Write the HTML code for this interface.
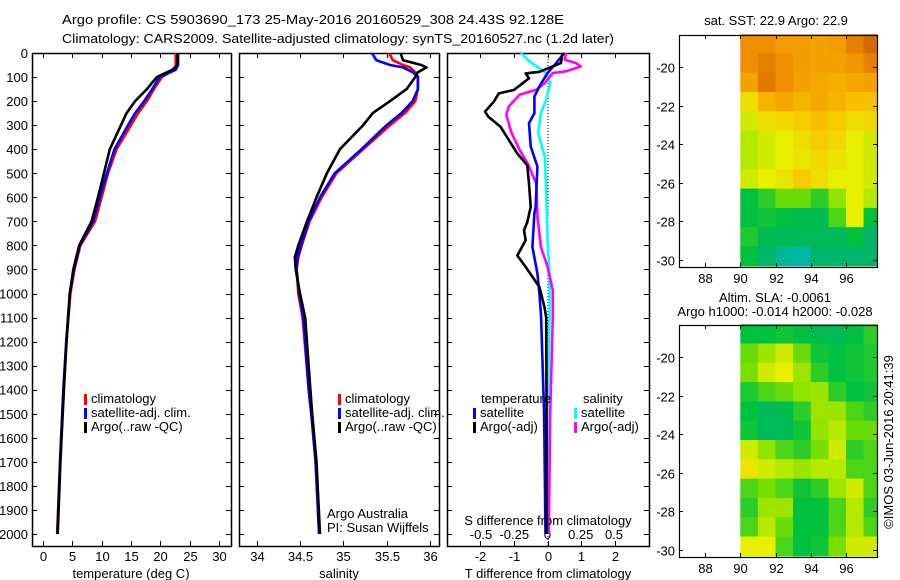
<!DOCTYPE html>
<html><head><meta charset="utf-8"><style>
html,body{margin:0;padding:0;background:#fff;}
svg{display:block;font-family:"Liberation Sans",sans-serif;}
text{fill:#000;font-size:13px;}
</style></head><body>
<svg id="fig" width="900" height="580" viewBox="0 0 900 580" xmlns="http://www.w3.org/2000/svg">
<text x="62" y="24" font-size="14.5" textLength="502" lengthAdjust="spacingAndGlyphs">Argo profile: CS 5903690_173 25-May-2016 20160529_308 24.43S 92.128E</text>
<text x="62" y="43" font-size="14.5" textLength="552" lengthAdjust="spacingAndGlyphs">Climatology: CARS2009. Satellite-adjusted climatology: synTS_20160527.nc (1.2d later)</text>
<g id="plots"></g>
</svg>
<script>
// ---- Data ----
const depths   = [0, 50, 70, 100, 150, 200, 250, 300, 400, 500, 600, 700, 800, 900, 1000, 1200, 1400, 1700, 2000];
const tempClim = [22.6, 22.6, 22.3, 20.25, 18.9, 17.7, 16.2, 15.0, 12.56, 11.1, 10.0, 8.9, 6.4, 5.4, 4.7, 4.05, 3.55, 2.95, 2.45];
const tempSat  = [23.0, 23.0, 22.6, 19.9, 18.6, 17.25, 15.7, 14.5, 12.2, 10.9, 9.7, 8.6, 6.3, 5.3, 4.6, 4.0, 3.5, 2.94, 2.5];
const tempArgo = [22.9, 22.9, 22.0, 19.4, 17.7, 15.7, 14.26, 13.3, 11.4, 10.4, 9.4, 8.3, 6.2, 5.2, 4.6, 4.05, 3.6, 3.0, 2.55];

const salDepths = [0, 30, 50, 60, 80, 100, 150, 200, 250, 300, 400, 500, 600, 700, 800, 850, 900, 1000, 1100, 1400, 1500, 1700, 2000];
const salClim = [35.53, 35.57, 35.69, 35.77, 35.83, 35.86, 35.86, 35.83, 35.71, 35.54, 35.23, 34.92, 34.75, 34.61, 34.52, 34.48, 34.46, 34.48, 34.53, 34.60, 34.63, 34.68, 34.72];
const salSat  = [35.33, 35.38, 35.54, 35.69, 35.80, 35.86, 35.86, 35.80, 35.67, 35.50, 35.21, 34.90, 34.73, 34.60, 34.51, 34.47, 34.46, 34.49, 34.54, 34.60, 34.63, 34.68, 34.72];
const salArgo = [35.66, 35.69, 35.90, 35.96, 35.86, 35.83, 35.73, 35.54, 35.34, 35.23, 34.96, 34.81, 34.69, 34.58, 34.48, 34.44, 34.45, 34.50, 34.56, 34.62, 34.64, 34.69, 34.73];

const tdDepths  = [0, 42, 78, 85, 105, 154, 168, 203, 244, 265, 307, 362, 418, 467, 543, 640, 703, 737, 779, 842, 890, 973, 1057, 1100, 1400, 2000];
const tDiffArgo = [0.45, 0.4, -0.24, -0.65, -0.55, -1.0, -1.45, -1.6, -1.86, -1.76, -1.4, -1.15, -0.9, -0.6, -0.55, -0.5, -0.6, -0.7, -0.65, -0.9, -0.65, -0.24, -0.09, -0.04, -0.03, -0.02];
const tsDepths  = [0, 42, 83, 139, 181, 250, 292, 389, 472, 639, 667, 806, 917, 1000, 1097, 1500, 2000];
const tDiffSat  = [0.5, 0.26, 0.0, -0.24, -0.39, -0.39, -0.55, -0.5, -0.3, -0.35, -0.39, -0.45, -0.3, -0.24, -0.19, -0.1, -0.06];
const ssDepths  = [0, 35, 63, 83, 125, 194, 250, 333, 431, 570, 779, 917, 1097, 1500, 2000];
const sDiffSat  = [-0.2, -0.135, -0.06, -0.01, 0.02, -0.01, -0.05, -0.07, -0.02, -0.01, 0.0, 0.015, 0.015, 0.0, 0.0];
const saDepths  = [0, 28, 42, 56, 76, 83, 125, 153, 174, 222, 257, 333, 403, 458, 542, 681, 806, 889, 986, 1097, 1500, 2000];
const sDiffArgo = [0.14, 0.13, 0.215, 0.25, 0.14, 0.04, -0.02, -0.085, -0.21, -0.29, -0.31, -0.27, -0.21, -0.15, -0.085, -0.075, -0.05, 0.0, 0.04, 0.04, 0.02, 0.01];

const depthTicks = [0,100,200,300,400,500,600,700,800,900,1000,1100,1200,1300,1400,1500,1600,1700,1800,1900,2000];
const tempTicks = [0,5,10,15,20,25,30];
const salTicks = [34,34.5,35,35.5,36];
const salTickLabels = ["34","34.5","35","35.5","36"];
const tdTicks = [-2,-1,0,1,2];
const sdTicks = [-0.5,-0.25,0,0.25,0.5];
const sdTickLabels = ["-0.5","-0.25","0","0.25","0.5"];

const lonTicks = [88,90,92,94,96];
const latTicks = [-20,-22,-24,-26,-28,-30];
const mapLons = [90,91,92,93,94,95,96,97];
const mapLats = [-18.3,-19.3,-20.3,-21.3,-22.3,-23.3,-24.3,-25.3,-26.3,-27.3,-28.3,-29.3];
const sstGrid = [
 [0.88,0.88,0.86,0.86,0.85,0.86,0.90,0.93],
 [0.88,0.90,0.88,0.86,0.85,0.85,0.87,0.90],
 [0.85,0.91,0.88,0.85,0.84,0.83,0.84,0.85],
 [0.75,0.82,0.84,0.82,0.84,0.82,0.80,0.80],
 [0.70,0.75,0.76,0.78,0.80,0.78,0.75,0.76],
 [0.68,0.70,0.72,0.75,0.78,0.76,0.72,0.70],
 [0.68,0.70,0.72,0.74,0.76,0.74,0.72,0.70],
 [0.70,0.72,0.74,0.78,0.75,0.72,0.72,0.70],
 [0.55,0.58,0.62,0.62,0.58,0.65,0.72,0.68],
 [0.55,0.56,0.55,0.53,0.53,0.60,0.72,0.55],
 [0.57,0.53,0.52,0.52,0.52,0.52,0.55,0.50],
 [0.55,0.50,0.46,0.45,0.50,0.50,0.50,0.50]];
const slaGrid = [
 [0.55,0.55,0.56,0.55,0.53,0.52,0.55,0.58],
 [0.62,0.66,0.70,0.62,0.56,0.55,0.56,0.57],
 [0.63,0.70,0.72,0.66,0.58,0.55,0.56,0.57],
 [0.57,0.60,0.62,0.65,0.66,0.58,0.55,0.56],
 [0.55,0.52,0.53,0.58,0.66,0.66,0.60,0.58],
 [0.56,0.52,0.52,0.56,0.65,0.68,0.62,0.62],
 [0.70,0.65,0.60,0.58,0.63,0.70,0.58,0.60],
 [0.74,0.70,0.68,0.66,0.68,0.68,0.60,0.60],
 [0.60,0.63,0.60,0.56,0.58,0.66,0.70,0.60],
 [0.58,0.66,0.66,0.55,0.55,0.60,0.68,0.58],
 [0.60,0.68,0.62,0.55,0.55,0.60,0.68,0.60],
 [0.72,0.72,0.60,0.55,0.56,0.63,0.70,0.70]];

// ---- Drawing ----
const NS = "http://www.w3.org/2000/svg";
const root = document.getElementById('plots');
function mk(tag, attrs, parent){
  const e = document.createElementNS(NS, tag);
  for (const k in attrs) e.setAttribute(k, attrs[k]);
  (parent||root).appendChild(e);
  return e;
}
function txt(s, x, y, anchor, size){
  const e = mk('text', {x:x, y:y, 'text-anchor':anchor||'start', 'font-size':size||13});
  e.textContent = s;
  return e;
}
const yTop = 53, yBot = 546;
const yOf = d => yTop + d*0.2405;
function lin(d0,d1,r0,r1){ return v => r0 + (v-d0)*(r1-r0)/(d1-d0); }
const xT = lin(0,30,42.7,219.3);
const xS = lin(34,36,256.7,430);
const xTD = lin(0,1,547.5,581.1);
const xSD = lin(0,1,547.5,680.5);

function frame(x0,x1,name){
  const r = mk('rect',{x:x0+0.5,y:yTop+0.5,width:x1-x0,height:yBot-yTop,fill:'none',stroke:'#000','stroke-width':1.5});
  
  
  depthTicks.forEach(d=>{
    const y = Math.round(yOf(d))+0.5;
    mk('line',{x1:x0,x2:x0+5,y1:y,y2:y,stroke:'#000'});
    mk('line',{x1:x1-5,x2:x1,y1:y,y2:y,stroke:'#000'});
  });
}
function xticks(ticks, labels, fx, ylab){
  ticks.forEach((t,i)=>{
    const x = Math.round(fx(t))+0.5;
    mk('line',{x1:x,x2:x,y1:yTop,y2:yTop+5,stroke:'#000'});
    mk('line',{x1:x,x2:x,y1:yBot-5,y2:yBot,stroke:'#000'});
    const l = txt(labels[i], x, ylab, 'middle');
    
    
  });
}
function line(xs, ds, fx, color, name){
  const pts = xs.map((v,i)=> fx(v).toFixed(1)+','+yOf(ds[i]).toFixed(1)).join(' ');
  const p = mk('polyline',{points:pts,fill:'none',stroke:color,'stroke-width':2.6,'stroke-linejoin':'round'});
  
  
}
function legendItem(x, y, color, label, name){
  const g = mk('g',{});
  
  
  mk('rect',{x:x,y:y-9,width:3,height:11,fill:color},g);
  const t = mk('text',{x:x+7,y:y,'font-size':12.5},g);
  t.textContent = label;
}

// Panel 1: temperature
frame(32,231,'temperature-panel');
depthTicks.forEach(d=>{
  const l = txt(String(d), 28, yOf(d)+5, 'end');
  
  
});
xticks(tempTicks, tempTicks.map(String), xT, 561);
line(tempClim, depths, xT, '#ff0000', 'temp-climatology-line');
line(tempSat, depths, xT, '#0000ff', 'temp-satellite-line');
line(tempArgo, depths, xT, '#000000', 'temp-argo-line');
let t1 = txt('temperature (deg C)', 131, 578, 'middle');


legendItem(84, 403, '#ff0000', 'climatology', 'legend-climatology');
legendItem(84, 417, '#0000ff', 'satellite-adj. clim.', 'legend-satellite-adj');
legendItem(84, 431, '#000000', 'Argo(..raw -QC)', 'legend-argo');

// Panel 2: salinity
frame(239,439,'salinity-panel');
xticks(salTicks, salTickLabels, xS, 561);
line(salClim, salDepths, xS, '#ff0000', 'sal-climatology-line');
line(salSat, salDepths, xS, '#0000ff', 'sal-satellite-line');
line(salArgo, salDepths, xS, '#000000', 'sal-argo-line');
let t2 = txt('salinity', 339, 578, 'middle');


legendItem(338, 403, '#ff0000', 'climatology', 'legend-climatology-2');
legendItem(338, 417, '#0000ff', 'satellite-adj. clim.', 'legend-satellite-adj-2');
legendItem(338, 431, '#000000', 'Argo(..raw -QC)', 'legend-argo-2');
let a1 = txt('Argo Australia', 327, 518);  
let a2 = txt('PI: Susan Wijffels', 327, 532);  

// Panel 3: differences
frame(447,649,'difference-panel');
mk('line',{x1:548,x2:548,y1:yTop,y2:yBot,stroke:'#000','stroke-dasharray':'1,2'});
xticks(tdTicks, tdTicks.map(String), xTD, 561);
sdTicks.forEach((t,i)=>{
  const l = txt(sdTickLabels[i], xSD(t), 539, 'middle');
  
  
});
line(sDiffSat, ssDepths, xSD, '#00ffff', 's-diff-satellite-line');
line(sDiffArgo, saDepths, xSD, '#ff00ff', 's-diff-argo-line');
line(tDiffSat, tsDepths, xTD, '#0000ff', 't-diff-satellite-line');
line(tDiffArgo, tdDepths, xTD, '#000000', 't-diff-argo-line');
let t3 = txt('T difference from climatology', 548, 578, 'middle');


let t4 = txt('S difference from climatology', 548, 525, 'middle');


let lt = txt('temperature', 481, 403, 'start', 12.5);  
let ls = txt('salinity', 583, 403, 'start', 12.5);  
legendItem(473, 417, '#0000ff', 'satellite', 'legend-t-satellite');
legendItem(473, 431, '#000000', 'Argo(-adj)', 'legend-t-argo');
legendItem(574, 417, '#00ffff', 'satellite', 'legend-s-satellite');
legendItem(574, 431, '#ff00ff', 'Argo(-adj)', 'legend-s-argo');

// ---- Maps ----
const cStops = [[0.40,[0,200,240]],[0.48,[0,176,120]],[0.55,[0,192,64]],[0.63,[120,224,0]],[0.72,[232,240,0]],[0.80,[248,192,0]],[0.88,[240,144,0]],[0.96,[200,80,0]]];
function cmap(v){
  if (v<=cStops[0][0]) return 'rgb('+cStops[0][1].join(',')+')';
  for (let i=1;i<cStops.length;i++){
    if (v<=cStops[i][0]){
      const f=(v-cStops[i-1][0])/(cStops[i][0]-cStops[i-1][0]);
      const a=cStops[i-1][1], b=cStops[i][1];
      return 'rgb('+a.map((c,k)=>Math.round(c+(b[k]-c)*f)).join(',')+')';
    }
  }
  return 'rgb('+cStops[cStops.length-1][1].join(',')+')';
}
function drawMap(top, bot, grid, name){
  const x0=679, x1=877;
  const fx = lin(88,96,705,846);
  const fy = lin(-20,-30,top+32,top+225);
  const g = mk('g',{});
  
  
  grid.forEach((row,r)=>row.forEach((v,c)=>{
    const xa = fx(mapLons[c]), xb = Math.min(fx(mapLons[c]+1), x1);
    const ya = fy(mapLats[r]), yb = Math.min(fy(mapLats[r]-1), bot);
    const cell = mk('rect',{x:xa.toFixed(1),y:ya.toFixed(1),width:(xb-xa+0.6).toFixed(1),height:(yb-ya+0.6).toFixed(1),fill:cmap(v)},g);
    
    
  }));
  mk('rect',{x:x0+0.5,y:top+0.5,width:x1-x0,height:bot-top,fill:'none',stroke:'#000','stroke-width':1.2});
  lonTicks.forEach(l=>{
    const x=Math.round(fx(l))+0.5;
    mk('line',{x1:x,x2:x,y1:top,y2:top+4,stroke:'#000'});
    mk('line',{x1:x,x2:x,y1:bot-4,y2:bot,stroke:'#000'});
    const t=txt(String(l), x, bot+16, 'middle');
    
    
  });
  latTicks.forEach(l=>{
    const y=Math.round(fy(l))+0.5;
    mk('line',{x1:x0,x2:x0+4,y1:y,y2:y,stroke:'#000'});
    mk('line',{x1:x1-4,x2:x1,y1:y,y2:y,stroke:'#000'});
    const t=txt(String(l), 675, y+5, 'end');
    
    
  });
}
drawMap(35, 267, sstGrid, 'sst-map');
drawMap(325, 557, slaGrid, 'sla-map');
let m1 = txt('sat. SST: 22.9 Argo: 22.9', 776, 25, 'middle');  
let m2 = txt('Altim. SLA: -0.0061', 775, 302, 'middle');  
let m3 = txt('Argo h1000: -0.014 h2000: -0.028', 775, 316, 'middle');  
let cp = txt('©IMOS 03-Jun-2016 20:41:39', 0, 0, 'middle');
cp.setAttribute('transform','translate(893,442) rotate(-90)');


</script>
</body></html>
